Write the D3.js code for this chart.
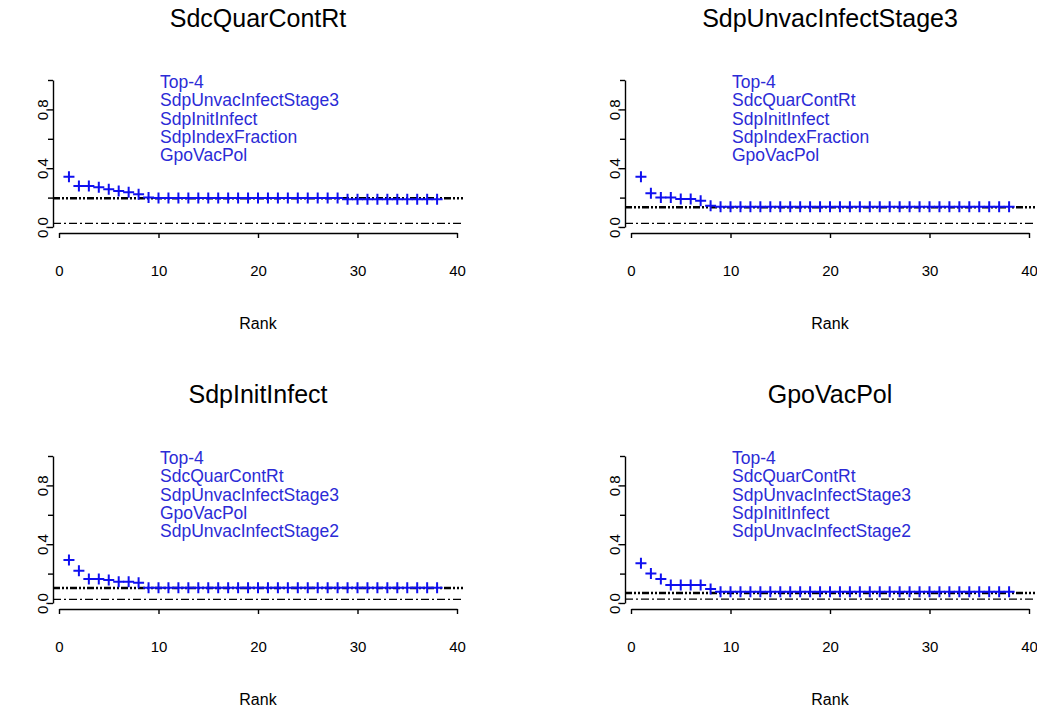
<!DOCTYPE html>
<html>
<head>
<meta charset="utf-8">
<script src="https://cdn.jsdelivr.net/npm/d3@7"></script>
<style>
    body { margin: 0; background: #fff; }
    svg { display: block; font-family: "Liberation Sans", Arial, sans-serif; }
    .axis path, .axis line { stroke: #000; stroke-width: 1.4; }
</style>
</head>
<body>
<svg id="chart" width="1037" height="709"></svg>
<script>
// ---- data ----
var titles = ["SdcQuarContRt", "SdpUnvacInfectStage3", "SdpInitInfect", "GpoVacPol"];

var legends = [
    ["Top-4", "SdpUnvacInfectStage3", "SdpInitInfect", "SdpIndexFraction", "GpoVacPol"],
    ["Top-4", "SdcQuarContRt", "SdpInitInfect", "SdpIndexFraction", "GpoVacPol"],
    ["Top-4", "SdcQuarContRt", "SdpUnvacInfectStage3", "GpoVacPol", "SdpUnvacInfectStage2"],
    ["Top-4", "SdcQuarContRt", "SdpUnvacInfectStage3", "SdpInitInfect", "SdpUnvacInfectStage2"]
];

var ranks = [1, 2, 3, 4, 5, 6, 7, 8, 9, 10, 11, 12, 13, 14, 15, 16, 17, 18, 19, 20,
    21, 22, 23, 24, 25, 26, 27, 28, 29, 30, 31, 32, 33, 34, 35, 36, 37, 38];

var sdcQuarContRt = [0.342, 0.279, 0.279, 0.270, 0.256, 0.245, 0.236, 0.222, 0.200,
    0.197, 0.197, 0.197, 0.197, 0.197, 0.197, 0.197, 0.197, 0.197, 0.197,
    0.197, 0.197, 0.197, 0.197, 0.197, 0.197, 0.197, 0.197, 0.197,
    0.189, 0.189, 0.189, 0.189, 0.189, 0.189, 0.189, 0.189, 0.189, 0.189];

var sdpUnvacInfectStage3 = [0.342, 0.229, 0.200, 0.200, 0.190, 0.190, 0.179, 0.145,
    0.138, 0.138, 0.138, 0.138, 0.138, 0.138, 0.138, 0.138, 0.138, 0.138,
    0.138, 0.138, 0.138, 0.138, 0.138, 0.138, 0.138, 0.138, 0.138, 0.138,
    0.138, 0.138, 0.138, 0.138, 0.138, 0.138, 0.138, 0.138, 0.138, 0.138];

var sdpInitInfect = [0.293, 0.220, 0.163, 0.163, 0.156, 0.145, 0.145, 0.138,
    0.104, 0.104, 0.104, 0.104, 0.104, 0.104, 0.104, 0.104, 0.104, 0.104,
    0.104, 0.104, 0.104, 0.104, 0.104, 0.104, 0.104, 0.104, 0.104, 0.104,
    0.104, 0.104, 0.104, 0.104, 0.104, 0.104, 0.104, 0.104, 0.104, 0.104];

var gpoVacPol = [0.270, 0.200, 0.163, 0.122, 0.122, 0.122, 0.122, 0.096,
    0.077, 0.077, 0.077, 0.077, 0.077, 0.077, 0.077, 0.077, 0.077, 0.077,
    0.077, 0.077, 0.077, 0.077, 0.077, 0.077, 0.077, 0.077, 0.077, 0.077,
    0.077, 0.077, 0.077, 0.077, 0.077, 0.077, 0.077, 0.077, 0.077, 0.077];

var series = [sdcQuarContRt, sdpUnvacInfectStage3, sdpInitInfect, gpoVacPol];

// reference levels (thick upper line, thin lower line)
var upperLevels = [0.196, 0.134, 0.102, 0.068];
var lowerLevels = [0.025, 0.025, 0.025, 0.026];

var xTicks = [0, 10, 20, 30, 40];
var yTicks = [0, 0.2, 0.4, 0.6, 0.8, 1.0];
var yTickLabels = ["0.0", "", "0.4", "", "0.8", ""];

// ---- layout ----
var svg = d3.select("#chart");
var offsets = [[0, 0], [572, 0], [0, 376], [572, 376]];

var x = d3.scaleLinear().domain([0, 40]).range([59, 457]);
var y = d3.scaleLinear().domain([0, 1]).range([227, 80]);
var plotLeft = 53, plotRight = 463, plotTop = 74, plotBottom = 233;

for (var p = 0; p < 4; p++) {
    drawPanel(p);
}

function drawPanel(p) {
    var g = svg.append("g")
        .attr("transform", "translate(" + offsets[p][0] + "," + offsets[p][1] + ")");

    var clipId = "clip" + p;
    g.append("clipPath").attr("id", clipId)
        .append("rect")
        .attr("x", plotLeft).attr("y", plotTop)
        .attr("width", plotRight - plotLeft).attr("height", plotBottom - plotTop);

    // title
    g.append("text")
        .attr("x", (plotLeft + plotRight) / 2)
        .attr("y", 27)
        .attr("text-anchor", "middle")
        .style("font-size", "25px")
        .text(titles[p]);

    // x axis
    var xAxis = g.append("g")
        .attr("class", "axis")
        .attr("transform", "translate(0," + plotBottom + ")")
        .call(d3.axisBottom(x).tickValues(xTicks).tickSize(5).tickSizeOuter(0).tickPadding(27));
    xAxis.attr("font-size", null).attr("font-family", null);
    xAxis.selectAll("text").style("font-size", "15px");

    // y axis
    var yAxis = g.append("g")
        .attr("class", "axis")
        .attr("transform", "translate(" + plotLeft + ",0)")
        .call(d3.axisLeft(y).tickValues(yTicks).tickSize(5).tickSizeOuter(0)
            .tickFormat(function (d, i) { return yTickLabels[i]; }));
    yAxis.attr("font-size", null).attr("font-family", null);
    yAxis.selectAll("text")
        .style("font-size", "15px")
        .attr("x", 0)
        .attr("dy", 0)
        .attr("text-anchor", "middle")
        .attr("transform", "translate(-5,0) rotate(-90)");

    // x label
    g.append("text")
        .attr("x", (plotLeft + plotRight) / 2)
        .attr("y", 329)
        .attr("text-anchor", "middle")
        .style("font-size", "16px")
        .text("Rank");

    var inner = g.append("g").attr("clip-path", "url(#" + clipId + ")");

    // reference lines
    inner.append("line")
        .attr("x1", plotLeft).attr("x2", plotRight)
        .attr("y1", y(lowerLevels[p])).attr("y2", y(lowerLevels[p]))
        .attr("stroke", "#000")
        .attr("stroke-width", 1.2)
        .attr("stroke-dasharray", "8 3 2 3");

    inner.append("line")
        .attr("x1", plotLeft).attr("x2", plotRight)
        .attr("y1", y(upperLevels[p])).attr("y2", y(upperLevels[p]))
        .attr("stroke", "#000")
        .attr("stroke-width", 2.6)
        .attr("stroke-dasharray", "7 2 2 2 2 2");

    // points
    inner.selectAll("path.pt")
        .data(series[p])
        .enter()
        .append("path")
        .attr("class", "pt")
        .attr("transform", function (d, i) {
            return "translate(" + x(ranks[i]) + "," + y(d) + ")";
        })
        .attr("d", "M-5.5,0H5.5M0,-5.5V5.5")
        .attr("stroke", "#1010f0")
        .attr("stroke-width", 2)
        .attr("fill", "none");

    // legend text
    g.selectAll("text.leg")
        .data(legends[p])
        .enter()
        .append("text")
        .attr("class", "leg")
        .attr("x", 160)
        .attr("y", function (d, i) { return 88 + i * 18.3; })
        .style("font-size", "17.5px")
        .attr("fill", "#2b2bd6")
        .text(function (d) { return d; });
}
</script>
</body>
</html>
